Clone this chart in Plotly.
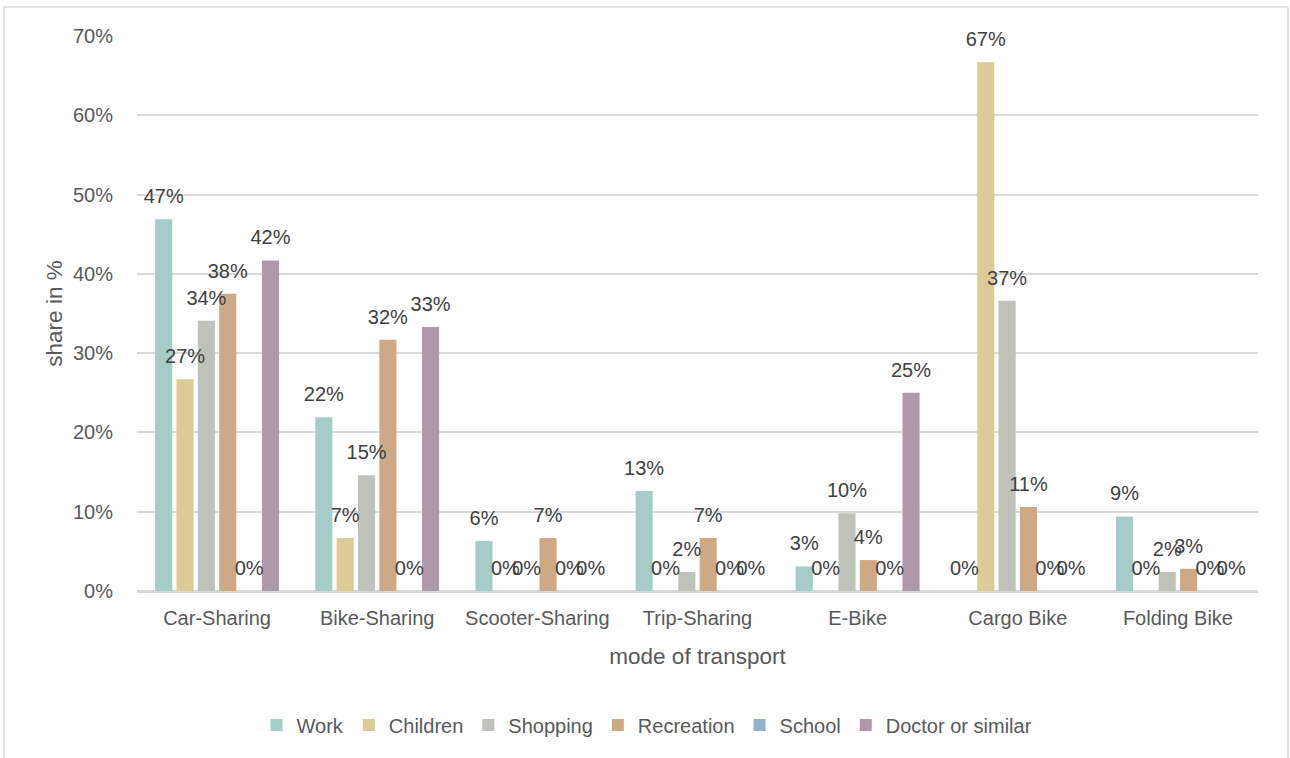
import plotly.graph_objects as go

# Shares of trip purposes per mode of transport
modes = ["Car-Sharing", "Bike-Sharing", "Scooter-Sharing", "Trip-Sharing",
         "E-Bike", "Cargo Bike", "Folding Bike"]

work = [0.469, 0.219, 0.063, 0.126, 0.031, 0.0, 0.094]
children = [0.267, 0.067, 0.0, 0.0, 0.0, 0.667, 0.0]
shopping = [0.341, 0.146, 0.0, 0.024, 0.098, 0.366, 0.024]
recreation = [0.375, 0.317, 0.067, 0.067, 0.039, 0.106, 0.028]
school = [0.0, 0.0, 0.0, 0.0, 0.0, 0.0, 0.0]
doctor = [0.417, 0.333, 0.0, 0.0, 0.25, 0.0, 0.0]

series = [
    ("Work", work, "#a4cdca"),
    ("Children", children, "#dccb95"),
    ("Shopping", shopping, "#bfc2ba"),
    ("Recreation", recreation, "#cfa886"),
    ("School", school, "#93b1cf"),
    ("Doctor or similar", doctor, "#b098ab"),
]

FONT = "Liberation Sans Narrow, Arial Narrow, Liberation Sans, Arial, sans-serif"
TICK_COLOR = "#595959"
LABEL_COLOR = "#404040"
GRID = "#d9d9d9"

fig = go.Figure()

for name, vals, color in series:
    fig.add_trace(go.Bar(
        name=name, x=modes, y=vals, offsetgroup=name,
        marker=dict(color=color, line=dict(width=0)),
    ))

# value labels, grouped the same way as the bars (invisible markers set the gap)
for name, vals, color in series:
    fig.add_trace(go.Scatter(
        x=modes, y=vals, offsetgroup=name, mode="markers+text",
        text=[f"{v:.0%}" for v in vals], textposition="top center",
        textfont=dict(family=FONT, size=20, color=LABEL_COLOR),
        marker=dict(size=16, color="rgba(0,0,0,0)"),
        showlegend=False, hoverinfo="skip", cliponaxis=False,
    ))

fig.update_layout(
    width=1290, height=758,
    margin=dict(l=137, r=32, t=36, b=167),
    paper_bgcolor="white", plot_bgcolor="white",
    barmode="group", bargap=0.2, bargroupgap=0.2,
    scattermode="group", scattergap=0.2,
    font=dict(family=FONT, size=20, color=TICK_COLOR),
    showlegend=True,
    legend=dict(orientation="h", x=0.455, xanchor="center", y=-0.2414,
                yanchor="middle", font=dict(size=20, color=TICK_COLOR),
                itemwidth=30, traceorder="normal"),
    xaxis=dict(
        showgrid=False, showline=True, linecolor=GRID, linewidth=1.5,
        ticks="outside", ticklen=8, tickcolor="rgba(0,0,0,0)",
        tickfont=dict(size=20, color=TICK_COLOR),
        title=dict(text="mode of transport", standoff=20,
                   font=dict(size=22.5, color=TICK_COLOR)),
    ),
    yaxis=dict(
        range=[0, 0.7], dtick=0.1, tickformat=".0%",
        showgrid=True, gridcolor=GRID, gridwidth=1.5,
        zeroline=True, zerolinecolor=GRID, zerolinewidth=1.5,
        showline=False,
        ticks="outside", ticklen=19, tickcolor="rgba(0,0,0,0)",
        tickfont=dict(size=20, color=TICK_COLOR),
        title=dict(text="share in %", standoff=4,
                   font=dict(size=22.5, color=TICK_COLOR)),
    ),
    shapes=[dict(type="rect", xref="paper", yref="paper",
                 x0=-0.1186, x1=1.0268, y0=-0.31, y1=1.0523,
                 line=dict(color=GRID, width=1.5), fillcolor="rgba(0,0,0,0)",
                 layer="below")],
)

fig.write_html("out.html")
